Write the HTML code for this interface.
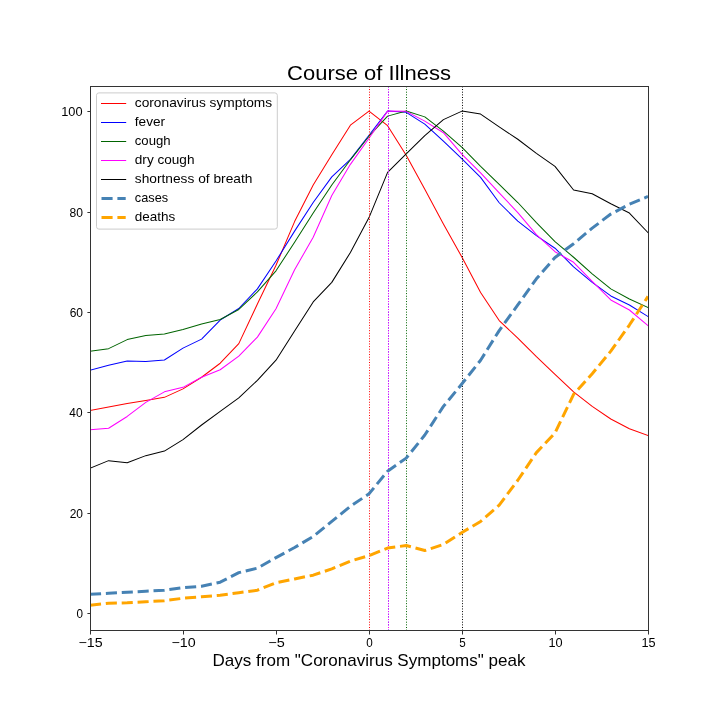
<!DOCTYPE html>
<html lang="en">
<head>
<meta charset="utf-8">
<title>Course of Illness</title>
<style>
html,body{margin:0;padding:0;background:#ffffff;}
body{width:720px;height:720px;overflow:hidden;font-family:"Liberation Sans",sans-serif;}
svg{display:block;will-change:transform;}
svg text{font-family:"Liberation Sans",sans-serif;fill:#000000;}
</style>
</head>
<body>
<svg width="720" height="720" viewBox="0 0 720 720">
<rect x="0" y="0" width="720" height="720" fill="#ffffff"/>
<g opacity="0.999">
<defs><clipPath id="ax"><rect x="90.0" y="86.4" width="558.0" height="543.6"/></clipPath></defs>
<g clip-path="url(#ax)" fill="none" stroke-linejoin="round">
<polyline points="90.00,410.43 108.60,406.92 127.20,403.40 145.80,400.39 164.40,397.37 183.00,388.84 201.60,377.28 220.20,363.22 238.80,343.64 257.40,303.96 276.00,265.29 294.60,221.60 313.20,184.94 331.80,154.80 350.40,125.17 369.00,111.11 387.60,125.67 406.20,155.30 424.80,189.20 443.40,224.11 462.00,257.25 480.60,292.41 499.20,320.53 517.80,338.11 536.40,356.69 555.00,374.27 573.60,391.85 592.20,406.41 610.80,418.97 629.40,428.76 648.00,435.54" stroke="#ff0000" stroke-width="1.02" stroke-linecap="square"/>
<polyline points="90.00,370.25 108.60,365.23 127.20,360.96 145.80,361.46 164.40,359.96 183.00,348.16 201.60,339.12 220.20,320.03 238.80,308.48 257.40,288.89 276.00,261.02 294.60,231.14 313.20,202.51 331.80,176.90 350.40,159.32 369.00,135.22 387.60,111.11 406.20,112.36 424.80,124.17 443.40,141.24 462.00,158.82 480.60,177.40 499.20,202.76 517.80,221.09 536.40,235.66 555.00,248.21 573.60,266.80 592.20,282.37 610.80,295.93 629.40,304.96 648.00,316.52" stroke="#0000ff" stroke-width="1.02" stroke-linecap="square"/>
<polyline points="90.00,351.17 108.60,348.66 127.20,339.62 145.80,335.60 164.40,334.09 183.00,329.57 201.60,324.05 220.20,319.53 238.80,309.48 257.40,291.91 276.00,270.81 294.60,242.19 313.20,213.06 331.80,184.94 350.40,159.82 369.00,136.22 387.60,116.13 406.20,111.11 424.80,116.88 443.40,131.20 462.00,147.27 480.60,166.35 499.20,184.43 517.80,202.51 536.40,222.60 555.00,241.69 573.60,257.25 592.20,273.83 610.80,288.89 629.40,298.94 648.00,307.48" stroke="#006400" stroke-width="1.02" stroke-linecap="square"/>
<polyline points="90.00,429.77 108.60,428.26 127.20,416.46 145.80,402.40 164.40,391.85 183.00,387.33 201.60,377.28 220.20,369.75 238.80,356.19 257.40,337.11 276.00,308.73 294.60,269.81 313.20,237.17 331.80,195.48 350.40,164.34 369.00,138.23 387.60,111.11 406.20,111.36 424.80,121.15 443.40,132.70 462.00,154.30 480.60,172.88 499.20,192.97 517.80,212.56 536.40,234.65 555.00,251.73 573.60,262.28 592.20,281.36 610.80,299.94 629.40,309.99 648.00,325.56" stroke="#ff00ff" stroke-width="1.02" stroke-linecap="square"/>
<polyline points="90.00,468.19 108.60,460.65 127.20,462.66 145.80,455.63 164.40,451.11 183.00,439.56 201.60,424.99 220.20,411.44 238.80,397.88 257.40,380.30 276.00,360.21 294.60,331.08 313.20,301.95 331.80,282.37 350.40,252.48 369.00,217.58 387.60,172.38 406.20,153.80 424.80,135.72 443.40,119.65 462.00,111.11 480.60,114.12 499.20,126.93 517.80,139.23 536.40,153.30 555.00,166.35 573.60,189.96 592.20,193.72 610.80,203.77 629.40,213.06 648.00,232.65" stroke="#000000" stroke-width="1.02" stroke-linecap="square"/>
<line x1="369.5" y1="86.4" x2="369.5" y2="630.0" stroke="#ff0000" stroke-width="1" stroke-dasharray="1 1.65"/>
<line x1="388.5" y1="86.4" x2="388.5" y2="630.0" stroke="#0000ff" stroke-width="1" stroke-dasharray="1 1.65"/>
<line x1="406.5" y1="86.4" x2="406.5" y2="630.0" stroke="#006400" stroke-width="1" stroke-dasharray="1 1.65"/>
<line x1="388.5" y1="86.4" x2="388.5" y2="630.0" stroke="#ff00ff" stroke-width="1" stroke-dasharray="1 1.65"/>
<line x1="462.5" y1="86.4" x2="462.5" y2="630.0" stroke="#000000" stroke-width="1" stroke-dasharray="1 1.65"/>
<polyline points="90.00,594.24 108.60,593.24 127.20,592.23 145.80,591.23 164.40,590.22 183.00,587.71 201.60,586.21 220.20,582.19 238.80,572.65 257.40,568.13 276.00,557.58 294.60,547.54 313.20,536.49 331.80,521.42 350.40,506.35 369.00,493.80 387.60,471.20 406.20,458.14 424.80,435.04 443.40,406.41 462.00,383.81 480.60,360.21 499.20,330.58 517.80,304.96 536.40,278.85 555.00,257.51 573.60,243.69 592.20,228.13 610.80,214.06 629.40,204.27 648.00,196.49" stroke="#4682b4" stroke-width="3" stroke-dasharray="11.1 4.8" stroke-linecap="butt"/>
<polyline points="90.00,605.29 108.60,603.28 127.20,602.78 145.80,601.78 164.40,600.77 183.00,598.26 201.60,596.75 220.20,595.25 238.80,592.74 257.40,590.22 276.00,582.69 294.60,578.92 313.20,575.16 331.80,568.88 350.40,561.10 369.00,555.57 387.60,548.04 406.20,545.53 424.80,550.55 443.40,544.52 462.00,532.47 480.60,521.42 499.20,505.10 517.80,480.24 536.40,452.62 555.00,433.03 573.60,394.36 592.20,373.77 610.80,351.17 629.40,325.05 648.00,296.43" stroke="#ffa500" stroke-width="3" stroke-dasharray="11.1 4.8" stroke-linecap="butt"/>
</g>
<g fill="#333333" shape-rendering="crispEdges">
<rect x="90" y="86" width="1" height="545"/>
<rect x="648" y="86" width="1" height="545"/>
<rect x="90" y="86" width="559" height="1"/>
<rect x="90" y="630" width="559" height="1"/>
</g>
<g fill="#333333">
<rect x="90" y="631" width="1" height="3.5"/>
<rect x="183" y="631" width="1" height="3.5"/>
<rect x="276" y="631" width="1" height="3.5"/>
<rect x="369" y="631" width="1" height="3.5"/>
<rect x="462" y="631" width="1" height="3.5"/>
<rect x="555" y="631" width="1" height="3.5"/>
<rect x="648" y="631" width="1" height="3.5"/>
<rect x="87.4" y="613" width="2.6" height="1"/>
<rect x="87.4" y="513" width="2.6" height="1"/>
<rect x="87.4" y="412" width="2.6" height="1"/>
<rect x="87.4" y="312" width="2.6" height="1"/>
<rect x="87.4" y="212" width="2.6" height="1"/>
<rect x="87.4" y="111" width="2.6" height="1"/>
</g>
<text x="90.50" y="647.00" font-size="12.60" text-anchor="middle" textLength="24.12" lengthAdjust="spacingAndGlyphs">−15</text>
<text x="183.50" y="647.00" font-size="12.60" text-anchor="middle" textLength="24.12" lengthAdjust="spacingAndGlyphs">−10</text>
<text x="276.50" y="647.00" font-size="12.60" text-anchor="middle" textLength="16.50" lengthAdjust="spacingAndGlyphs">−5</text>
<text x="369.50" y="647.00" font-size="12.60" text-anchor="middle" textLength="6.50" lengthAdjust="spacingAndGlyphs">0</text>
<text x="462.50" y="647.00" font-size="12.60" text-anchor="middle" textLength="6.50" lengthAdjust="spacingAndGlyphs">5</text>
<text x="555.50" y="647.00" font-size="12.60" text-anchor="middle" textLength="14.12" lengthAdjust="spacingAndGlyphs">10</text>
<text x="648.50" y="647.00" font-size="12.60" text-anchor="middle" textLength="14.12" lengthAdjust="spacingAndGlyphs">15</text>
<text x="83.00" y="618.00" font-size="12.60" text-anchor="end" textLength="6.50" lengthAdjust="spacingAndGlyphs">0</text>
<text x="83.00" y="518.00" font-size="12.60" text-anchor="end" textLength="13.32" lengthAdjust="spacingAndGlyphs">20</text>
<text x="82.50" y="417.00" font-size="12.60" text-anchor="end" textLength="13.20" lengthAdjust="spacingAndGlyphs">40</text>
<text x="83.00" y="317.00" font-size="12.60" text-anchor="end" textLength="13.32" lengthAdjust="spacingAndGlyphs">60</text>
<text x="83.00" y="217.00" font-size="12.60" text-anchor="end" textLength="13.45" lengthAdjust="spacingAndGlyphs">80</text>
<text x="82.50" y="116.00" font-size="12.60" text-anchor="end" textLength="21.32" lengthAdjust="spacingAndGlyphs">100</text>
<text x="369.00" y="79.60" font-size="21.00" text-anchor="middle" textLength="163.80" lengthAdjust="spacingAndGlyphs">Course of Illness</text>
<text x="369.00" y="665.60" font-size="15.75" text-anchor="middle" textLength="313.00" lengthAdjust="spacingAndGlyphs">Days from "Coronavirus Symptoms" peak</text>
<rect x="96.5" y="92.9" width="180.8" height="136.2" rx="2.4" ry="2.4" fill="#ffffff" fill-opacity="0.8" stroke="#cccccc" stroke-width="1"/>
<line x1="101.5" y1="103.5" x2="125.7" y2="103.5" stroke="#ff0000" stroke-width="1" stroke-linecap="square"/>
<text x="134.80" y="107.20" font-size="12.60" text-anchor="start" textLength="137.38" lengthAdjust="spacingAndGlyphs">coronavirus symptoms</text>
<line x1="101.5" y1="122.5" x2="125.7" y2="122.5" stroke="#0000ff" stroke-width="1" stroke-linecap="square"/>
<text x="134.80" y="126.20" font-size="12.60" text-anchor="start" textLength="30.30" lengthAdjust="spacingAndGlyphs">fever</text>
<line x1="101.5" y1="141.5" x2="125.7" y2="141.5" stroke="#006400" stroke-width="1" stroke-linecap="square"/>
<text x="134.80" y="145.20" font-size="12.60" text-anchor="start" textLength="35.84" lengthAdjust="spacingAndGlyphs">cough</text>
<line x1="101.5" y1="160.5" x2="125.7" y2="160.5" stroke="#ff00ff" stroke-width="1" stroke-linecap="square"/>
<text x="134.80" y="164.20" font-size="12.60" text-anchor="start" textLength="59.68" lengthAdjust="spacingAndGlyphs">dry cough</text>
<line x1="101.5" y1="179.5" x2="125.7" y2="179.5" stroke="#000000" stroke-width="1" stroke-linecap="square"/>
<text x="134.80" y="183.20" font-size="12.60" text-anchor="start" textLength="117.57" lengthAdjust="spacingAndGlyphs">shortness of breath</text>
<line x1="101.5" y1="198.5" x2="125.7" y2="198.5" stroke="#4682b4" stroke-width="3" stroke-dasharray="11.1 4.8"/>
<text x="134.80" y="202.20" font-size="12.60" text-anchor="start" textLength="33.32" lengthAdjust="spacingAndGlyphs">cases</text>
<line x1="101.5" y1="217.5" x2="125.7" y2="217.5" stroke="#ffa500" stroke-width="3" stroke-dasharray="11.1 4.8"/>
<text x="134.80" y="221.20" font-size="12.60" text-anchor="start" textLength="40.51" lengthAdjust="spacingAndGlyphs">deaths</text>
</g>
</svg>
</body>
</html>
